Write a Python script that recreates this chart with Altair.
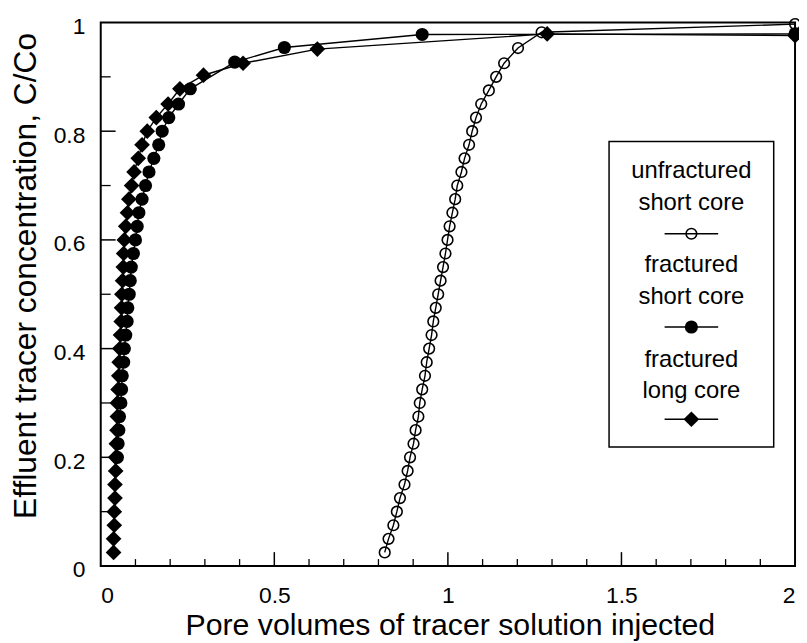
import altair as alt
import pandas as pd

# ---------------- data ----------------
# unfractured short core (open circles)
unf_y = [0.025, 0.05, 0.075, 0.1, 0.125, 0.15, 0.175, 0.2, 0.225, 0.25,
         0.275, 0.3, 0.325, 0.35, 0.375, 0.4, 0.425, 0.45, 0.475, 0.5,
         0.525, 0.55, 0.575, 0.6, 0.625, 0.65, 0.675, 0.7, 0.725, 0.75,
         0.775, 0.8, 0.825, 0.85, 0.875, 0.9, 0.925, 0.953, 0.982, 0.997]
unf_x = [0.818, 0.829, 0.843, 0.853, 0.862, 0.875, 0.884, 0.891, 0.901, 0.907,
         0.915, 0.919, 0.926, 0.934, 0.939, 0.946, 0.953, 0.958, 0.965, 0.972,
         0.979, 0.986, 0.993, 0.999, 1.005, 1.013, 1.021, 1.027, 1.039, 1.048,
         1.061, 1.070, 1.081, 1.096, 1.118, 1.139, 1.162, 1.202, 1.27, 2.0]

# fractured short core (filled circles; lower points hidden behind diamonds)
fs_y = [0.2, 0.225, 0.25,
        0.275, 0.3, 0.325, 0.35, 0.375, 0.4, 0.425, 0.45, 0.475, 0.5,
        0.525, 0.55, 0.575, 0.6, 0.625, 0.65, 0.675, 0.7, 0.725, 0.75,
        0.775, 0.8, 0.825, 0.85, 0.878, 0.927, 0.954, 0.978, 0.979]
fs_x = [0.048, 0.050, 0.052,
        0.054, 0.058, 0.060, 0.062, 0.066, 0.068, 0.072, 0.076, 0.078, 0.082,
        0.085, 0.088, 0.094, 0.100, 0.105, 0.110, 0.119, 0.129, 0.139, 0.153,
        0.167, 0.177, 0.196, 0.224, 0.258, 0.386, 0.529, 0.926, 2.0]

# fractured long core (filled diamonds)
fl_y = [0.025, 0.05, 0.075, 0.1, 0.125, 0.15, 0.175, 0.2, 0.225, 0.25,
        0.275, 0.3, 0.325, 0.35, 0.375, 0.4, 0.425, 0.45, 0.475, 0.5,
        0.525, 0.55, 0.575, 0.6, 0.625, 0.65, 0.675, 0.7, 0.725, 0.75,
        0.775, 0.8, 0.825, 0.85, 0.878, 0.903, 0.925, 0.951, 0.979, 0.976]
fl_x = [0.037, 0.037, 0.039, 0.039, 0.041, 0.041, 0.043, 0.043, 0.045, 0.047,
        0.048, 0.048, 0.050, 0.052, 0.053, 0.055, 0.057, 0.059, 0.060, 0.061,
        0.063, 0.065, 0.066, 0.068, 0.072, 0.077, 0.081, 0.089, 0.096, 0.108,
        0.119, 0.134, 0.160, 0.194, 0.228, 0.296, 0.41, 0.624, 1.286, 2.0]

x_major = [0.5, 1.0, 1.5]
x_minor = [0.1, 0.2, 0.3, 0.4, 0.6, 0.7, 0.8, 0.9, 1.1, 1.2, 1.3, 1.4,
           1.6, 1.7, 1.8, 1.9]
y_major = [0.2, 0.4, 0.6, 0.8]
y_minor = [0.1, 0.3, 0.5, 0.7, 0.9]
x_labels = [0, 0.5, 1, 1.5, 2]
y_labels = [0, 0.2, 0.4, 0.6, 0.8, 1]

legend_text = [["unfractured", "short core"],
               ["fractured", "short core"],
               ["fractured", "long core"]]

x_title = "Pore volumes of tracer solution injected"
y_title = "Effluent tracer concentration, C/Co"

# ---------------- chart ----------------
W, H = 700, 548
FONT = "Liberation Sans"

xs = alt.Scale(domain=[0, 2], nice=False, zero=False)
ys = alt.Scale(domain=[0, 1], nice=False)

x_axis = alt.Axis(values=x_labels, format="~g", title=x_title,
                  labelPadding=19, titleX=352, titleY=69,
                  titleBaseline="alphabetic", titleAlign="center",
                  titleAnchor="middle")
y_axis = alt.Axis(values=y_labels, format="~g", title=y_title,
                  labelPadding=16, labelOffset=4, titleX=-66, titleY=255,
                  titleAngle=270, titleBaseline="alphabetic", titleAlign="center")

X = alt.X("x:Q", scale=xs, axis=x_axis)
Y = alt.Y("y:Q", scale=ys, axis=y_axis)


def sdf(xv, yv):
    return pd.DataFrame({"x": xv, "y": yv, "i": list(range(len(xv)))})


d_unf = sdf(unf_x, unf_y)
d_fs = sdf(fs_x, fs_y)
d_fl = sdf(fl_x, fl_y)

LW = 1.4
OPEN = dict(shape="circle", filled=False, size=115, stroke="black",
            strokeWidth=1.6, opacity=1)
DOT = dict(shape="circle", filled=True, size=175, color="black", opacity=1)
DIA = dict(shape="diamond", filled=True, size=250, color="black", opacity=1)

layers = []
for d in (d_unf, d_fs, d_fl):
    layers.append(alt.Chart(d).mark_line(color="black", strokeWidth=LW)
                  .encode(x=X, y=Y, order="i:Q"))

layers.append(alt.Chart(d_unf).mark_point(**OPEN).encode(x=X, y=Y))
layers.append(alt.Chart(d_fs).mark_point(**DOT).encode(x=X, y=Y))
layers.append(alt.Chart(d_fl).mark_point(**DIA).encode(x=X, y=Y))

# inward ticks
layers.append(alt.Chart(pd.DataFrame({"x": x_major})).mark_rule(color="black", strokeWidth=1.5)
              .encode(x=X, y=alt.value(H), y2=alt.value(H - 14)))
layers.append(alt.Chart(pd.DataFrame({"x": x_minor})).mark_rule(color="black", strokeWidth=1.3)
              .encode(x=X, y=alt.value(H), y2=alt.value(H - 7)))
layers.append(alt.Chart(pd.DataFrame({"y": y_major})).mark_rule(color="black", strokeWidth=1.5)
              .encode(y=Y, x=alt.value(0), x2=alt.value(15)))
layers.append(alt.Chart(pd.DataFrame({"y": y_minor})).mark_rule(color="black", strokeWidth=1.3)
              .encode(y=Y, x=alt.value(0), x2=alt.value(10)))

# legend box
LX0, LX1, LY0, LY1 = 512.5, 678.5, 120, 428
LCX = (LX0 + LX1) / 2
layers.append(alt.Chart().mark_rect(fill="white", stroke="black", strokeWidth=1.5)
              .encode(x=alt.value(LX0), x2=alt.value(LX1),
                      y=alt.value(LY0), y2=alt.value(LY1)))

text_y = [[150, 181.7], [245, 276.7], [340, 371.7]]
sym_y = [213, 307, 400]
for k in range(3):
    for j in range(2):
        layers.append(alt.Chart().mark_text(font=FONT, fontSize=24, color="black",
                                            align="center", baseline="middle")
                      .encode(x=alt.value(LCX), y=alt.value(text_y[k][j]),
                              text=alt.value(legend_text[k][j])))
    layers.append(alt.Chart().mark_rule(color="black", strokeWidth=LW)
                  .encode(x=alt.value(LCX - 27), x2=alt.value(LCX + 27),
                          y=alt.value(sym_y[k])))

for k, style in enumerate((OPEN, DOT, DIA)):
    layers.append(alt.Chart().mark_point(**style)
                  .encode(x=alt.value(LCX), y=alt.value(sym_y[k])))

chart = (alt.layer(*layers)
         .properties(width=W, height=H,
                     padding={"left": 93.5, "top": 12, "right": 4, "bottom": 75},
                     autosize=alt.AutoSizeParams(type="none"))
         .configure_view(stroke="black", strokeWidth=2)
         .configure_axis(grid=False, domain=False, ticks=False, tickSize=0,
                         labelFont=FONT, labelFontSize=23, labelColor="black",
                         titleFont=FONT, titleFontSize=30.5, titleColor="black",
                         titleFontWeight="normal")
         .configure_axisY(titleFontSize=32))

chart.save("out.html", embed_options={"renderer": "svg", "actions": False})
